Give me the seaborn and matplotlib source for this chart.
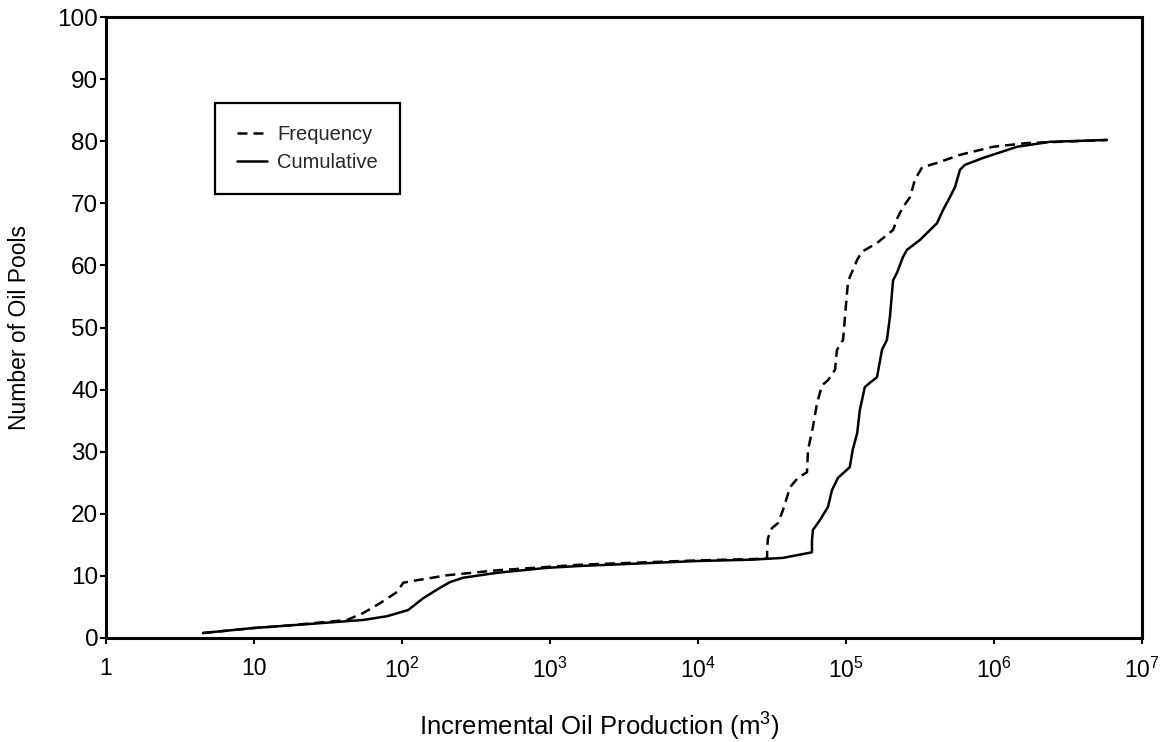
import numpy as np
import pandas as pd
import matplotlib
matplotlib.use("Agg")
import matplotlib.pyplot as plt
import seaborn as sns

# ---- data ----
cum_x = [4.52, 9.85, 25, 54.5, 79, 110, 139, 181, 211, 258, 439, 955, 1600, 1.0e4,
         2.24e4, 3.75e4, 5.89e4, 5.89e4, 5.98e4, 6.67e4, 7.55e4, 8.04e4, 8.83e4,
         1.06e5, 1.11e5, 1.19e5, 1.24e5, 1.34e5, 1.45e5, 1.62e5, 1.75e5, 1.89e5,
         1.98e5, 2.08e5, 2.21e5, 2.43e5, 2.58e5, 3.16e5, 4.12e5, 4.52e5, 5.04e5,
         5.45e5, 5.89e5, 6.37e5, 8.43e5, 1.43e6, 2.39e6, 5.8e6]
cum_y = [0.8, 1.6, 2.3, 2.9, 3.5, 4.5, 6.4, 8.1, 9.0, 9.7, 10.5, 11.3, 11.6, 12.4,
         12.6, 12.9, 13.8, 15.8, 17.4, 19.0, 21.1, 23.8, 25.8,
         27.5, 30.3, 33.0, 36.7, 40.4, 41.1, 42.0, 46.4, 48.0,
         51.7, 57.6, 58.8, 61.4, 62.5, 64.1, 66.8, 68.9, 71.0,
         72.6, 75.4, 76.2, 77.3, 79.1, 79.9, 80.2]

freq_x = [4.52, 9.85, 15, 42.5, 54.5, 71, 92.5, 102, 119, 201, 439, 1600, 1.0e4,
          2.24e4, 2.93e4, 2.93e4, 2.97e4, 3.16e4, 3.47e4, 3.75e4, 4.19e4, 4.74e4,
          5.45e4, 5.54e4, 5.98e4, 6.37e4, 6.89e4, 7.55e4, 8.43e4, 8.69e4, 9.55e4,
          9.84e4, 1.03e5, 1.06e5, 1.19e5, 1.28e5, 1.62e5, 1.78e5, 2.08e5, 2.24e5,
          2.43e5, 2.71e5, 2.92e5, 3.27e5, 4.12e5, 5.89e5, 9.84e5, 1.67e6, 5.8e6]
freq_y = [0.8, 1.6, 1.9, 2.9, 4.0, 5.6, 7.4, 8.9, 9.2, 10.1, 10.9, 11.8, 12.5,
          12.7, 12.8, 14.2, 16.1, 17.7, 18.5, 20.6, 24.3, 25.8,
          26.7, 30.3, 34.0, 37.8, 40.7, 41.5, 43.2, 46.4, 48.0,
          51.7, 57.2, 58.1, 60.9, 62.2, 63.6, 64.4, 65.7, 67.8,
          69.4, 71.0, 73.8, 75.8, 76.5, 77.8, 79.1, 79.7, 80.2]

x_ticks = [1, 10, 1e2, 1e3, 1e4, 1e5, 1e6, 1e7]
x_tick_labels = ["1", "10", r"$\mathregular{10^{2}}$", r"$\mathregular{10^{3}}$",
                 r"$\mathregular{10^{4}}$", r"$\mathregular{10^{5}}$",
                 r"$\mathregular{10^{6}}$", r"$\mathregular{10^{7}}$"]
y_ticks = list(range(0, 101, 10))

x_label = r"Incremental Oil Production (m$\mathregular{^{3}}$)"
y_label = "Number of Oil Pools"
series_names = ["Frequency", "Cumulative"]

# ---- style ----
sns.set_style("white")
plt.rcParams["font.family"] = ["Liberation Sans", "DejaVu Sans"]
plt.rcParams["mathtext.fontset"] = "custom"
plt.rcParams["mathtext.rm"] = "Liberation Sans"
plt.rcParams["mathtext.it"] = "Liberation Sans:italic"
plt.rcParams["mathtext.bf"] = "Liberation Sans:bold"

fig = plt.figure(figsize=(11.65, 7.42), dpi=100)
ax = fig.add_axes([106 / 1165, 1 - 638 / 742, (1142 - 106) / 1165, (638 - 17) / 742])

freq_df = pd.DataFrame({"x": freq_x, "y": freq_y})
cum_df = pd.DataFrame({"x": cum_x, "y": cum_y})

sns.lineplot(data=freq_df, x="x", y="y", ax=ax, sort=False, estimator=None,
             color="black", linewidth=1.8, linestyle=(0, (4.0, 2.4)),
             label=series_names[0])
sns.lineplot(data=cum_df, x="x", y="y", ax=ax, sort=False, estimator=None,
             color="black", linewidth=1.8, linestyle="-",
             label=series_names[1])

ax.set_xscale("log")
ax.set_xlim(1, 1e7)
ax.set_ylim(0, 100)
ax.set_xticks(x_ticks)
ax.set_xticklabels(x_tick_labels)
ax.xaxis.set_minor_locator(matplotlib.ticker.NullLocator())
ax.set_yticks(y_ticks)

for s in ax.spines.values():
    s.set_visible(True)
    s.set_color("black")
    s.set_linewidth(2.2)

ax.tick_params(axis="y", which="major", direction="out", length=4, width=1.5,
               color="black", labelsize=17.5, pad=1.5, left=True, labelcolor="black")
ax.tick_params(axis="x", which="major", direction="out", length=4, width=1.5,
               color="black", labelsize=16.5, pad=10, bottom=True, labelcolor="black")

ax.set_xlabel(x_label, fontsize=18.5, color="black")
ax.xaxis.set_label_coords(0.476, -0.117)
ax.set_ylabel(y_label, fontsize=16.5, color="black")
ax.yaxis.set_label_coords(-0.072, 0.5)

leg = ax.legend(loc="upper left", bbox_to_anchor=((215 - 106) / 1036, (638 - 103) / 621),
                fontsize=14.5, frameon=True, fancybox=False, shadow=False, framealpha=1,
                edgecolor="black", borderpad=1.1, handlelength=1.5, handletextpad=0.5,
                labelspacing=0.45, borderaxespad=0)
leg.get_frame().set_linewidth(1.6)

fig.savefig("out.png", dpi=100, facecolor="white")
